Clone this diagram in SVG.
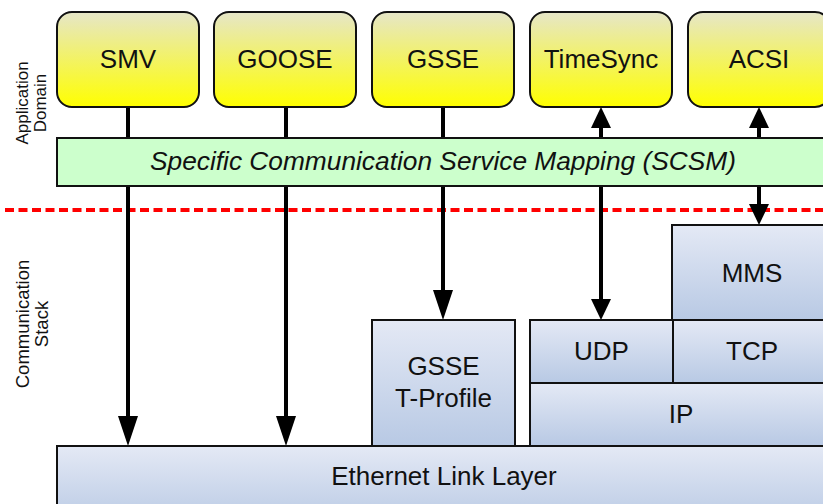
<svg xmlns="http://www.w3.org/2000/svg" width="823" height="504" viewBox="0 0 823 504">
<style>
.app{fill:url(#gy);stroke:#111;stroke-width:2}
.blk{fill:url(#gb);stroke:#111;stroke-width:2}
.scsm{fill:#ccffcc;stroke:#111;stroke-width:2}
.t{font-family:"Liberation Sans",Arial,sans-serif;fill:#111;text-anchor:middle}
.big{font-size:26px}
.it{font-size:26.3px;font-style:italic}
.conn{stroke:#000;stroke-width:4;fill:none}
.side{font-family:"Liberation Sans",Arial,sans-serif;fill:#111;text-anchor:middle}
</style>
<defs>
<linearGradient id="gy" x1="0" y1="0" x2="0" y2="1">
<stop offset="0" stop-color="#e6e6c8"/>
<stop offset="1" stop-color="#ffff00"/>
</linearGradient>
<linearGradient id="gb" x1="0" y1="0" x2="0" y2="1">
<stop offset="0" stop-color="#e4e9f5"/>
<stop offset="1" stop-color="#b8c9e4"/>
</linearGradient>
<marker id="aL" viewBox="0 0 30 20" markerUnits="userSpaceOnUse" markerWidth="30" markerHeight="20" refX="2" refY="10" orient="auto">
<path d="M0,0 L30,10 L0,20 z" fill="#000"/>
</marker>
<marker id="aS" viewBox="0 0 21 20" markerUnits="userSpaceOnUse" markerWidth="21" markerHeight="20" refX="2" refY="10" orient="auto-start-reverse">
<path d="M0,0 L21,10 L0,20 z" fill="#000"/>
</marker>
</defs>
<rect width="823" height="504" fill="#fff"/>

<g id="domain-labels">
<text class="side" font-size="17" transform="translate(0,103) rotate(-90)"><tspan x="0" y="28">Application</tspan><tspan x="0" y="46">Domain</tspan></text>
<text class="side" font-size="18.5" transform="translate(0,324) rotate(-90)"><tspan x="0" y="29">Communication</tspan><tspan x="0" y="48">Stack</tspan></text>
</g>

<line id="boundary" x1="5" y1="210" x2="823" y2="210" stroke="#ff0000" stroke-width="4" stroke-dasharray="9 4.5"/>

<g id="connectors">
<path class="conn" d="M128,107 L128,418" marker-end="url(#aL)"/>
<path class="conn" d="M286,107 L286,418" marker-end="url(#aL)"/>
<path class="conn" d="M443,107 L443,292" marker-end="url(#aL)"/>
<path class="conn" d="M601,126 L601,301" marker-start="url(#aS)" marker-end="url(#aS)"/>
<path class="conn" d="M759,126 L759,206" marker-start="url(#aS)" marker-end="url(#aS)"/>
</g>

<g id="smv"><rect class="app" x="57" y="12" width="142" height="95" rx="15"/><text class="t big" x="128" y="68">SMV</text></g>
<g id="goose"><rect class="app" x="214" y="12" width="142" height="95" rx="15"/><text class="t big" x="285" y="68">GOOSE</text></g>
<g id="gsse"><rect class="app" x="372" y="12" width="142" height="95" rx="15"/><text class="t big" x="443" y="68">GSSE</text></g>
<g id="timesync"><rect class="app" x="530" y="12" width="142" height="95" rx="15"/><text class="t big" x="601" y="68">TimeSync</text></g>
<g id="acsi"><rect class="app" x="688" y="12" width="142" height="95" rx="15"/><text class="t big" x="759" y="68">ACSI</text></g>

<g id="scsm"><rect class="scsm" x="57" y="138" width="780" height="48"/><text class="t it" x="443" y="170">Specific Communication Service Mapping (SCSM)</text></g>

<g id="mms"><rect class="blk" x="672" y="225" width="160" height="95"/><text class="t big" x="752" y="282">MMS</text></g>
<g id="gsse-tprofile"><rect class="blk" x="372" y="320" width="143" height="126"/><text class="t big" x="443.5" y="375">GSSE</text><text class="t big" x="443.5" y="407">T-Profile</text></g>
<g id="udp"><rect class="blk" x="530" y="320" width="143" height="63"/><text class="t big" x="601.5" y="360">UDP</text></g>
<g id="tcp"><rect class="blk" x="673" y="320" width="159" height="63"/><text class="t big" x="752" y="360">TCP</text></g>
<g id="ip"><rect class="blk" x="530" y="383" width="302" height="63"/><text class="t big" x="681" y="423">IP</text></g>
<g id="ethernet"><rect class="blk" x="57" y="446" width="775" height="80"/><text class="t big" x="444" y="485">Ethernet Link Layer</text></g>
</svg>
